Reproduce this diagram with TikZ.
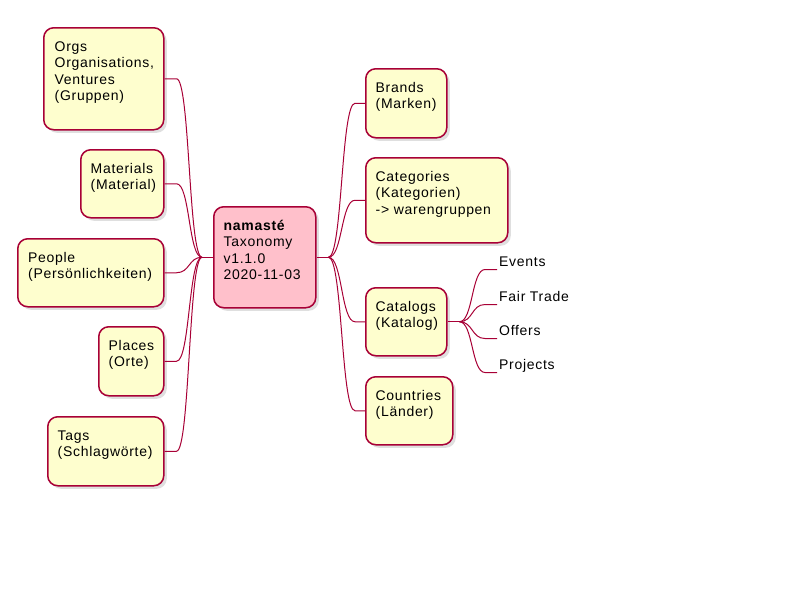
\documentclass[tikz,border=0pt]{standalone}
\usepackage{fontspec}
\setmainfont{Liberation Sans}[LetterSpace=5]
\usetikzlibrary{shadows,calc}
\definecolor{bord}{HTML}{A80036}
\definecolor{boxfill}{HTML}{FEFECE}
\definecolor{rootfill}{HTML}{FFC0CB}
\newcommand{\fl}{\rule{0pt}{13pt}}
\begin{document}
\begin{tikzpicture}[x=1pt,y=-1pt,
  mmbox/.style={draw=bord, fill=boxfill, line width=1.5pt, rounded corners=10pt, inner sep=0pt, anchor=north west,
    drop shadow={shadow xshift=3pt,shadow yshift=-3pt,opacity=0.25}},
  rootbox/.style={mmbox, fill=rootfill},
  txt/.style={inner sep=0pt, anchor=north west, align=left, font=\fontsize{14}{16.4}\selectfont, text=black},
  leaf/.style={inner sep=0pt, anchor=base west, font=\fontsize{14}{16.4}\selectfont, text=black},
  conn/.style={draw=bord, line width=1pt},
]
\fill[white] (0,0) rectangle (800,600);

% left boxes
\node[mmbox, minimum width=120, minimum height=102] (orgs) at (43,27) {};
\node[mmbox, minimum width=83, minimum height=68] (mat) at (80,149) {};
\node[mmbox, minimum width=146, minimum height=68] (people) at (17,238) {};
\node[mmbox, minimum width=65, minimum height=69] (places) at (98,326) {};
\node[mmbox, minimum width=116, minimum height=69] (tags) at (47,416) {};
% root
\node[rootbox, minimum width=102, minimum height=101] (root) at (213,206) {};
% right boxes
\node[mmbox, minimum width=81, minimum height=69] (brands) at (365,68) {};
\node[mmbox, minimum width=142, minimum height=85] (cats) at (365,157) {};
\node[mmbox, minimum width=81, minimum height=68] (catalogs) at (365,287) {};
\node[mmbox, minimum width=87, minimum height=68] (countries) at (365,376) {};

% texts
\node[txt] (orgsT) at ($(orgs.north west)+(11.5,11)$) {\fl Orgs\\Organisations,\\Ventures\\(Gruppen)};
\node[txt] (matT) at ($(mat.north west)+(10.5,11)$) {\fl Materials\\(Material)};
\node[txt] (peopleT) at ($(people.north west)+(11,11)$) {\fl People\\(Persönlichkeiten)};
\node[txt] (placesT) at ($(places.north west)+(10.5,11)$) {\fl Places\\(Orte)};
\node[txt] (tagsT) at ($(tags.north west)+(10.5,11)$) {\fl Tags\\(Schlagwörte)};
\node[txt] (rootT) at ($(root.north west)+(10.5,11)$) {\fl\textbf{namasté}\\Taxonomy\\v1.1.0\\2020-11-03};
\node[txt] (brandsT) at ($(brands.north west)+(10.5,11)$) {\fl Brands\\(Marken)};
\node[txt] (catsT) at ($(cats.north west)+(10.5,11)$) {\fl Categories\\(Kategorien)\\-> warengruppen};
\node[txt] (catalogsT) at ($(catalogs.north west)+(10.5,11)$) {\fl Catalogs\\(Katalog)};
\node[txt] (countriesT) at ($(countries.north west)+(10.5,11)$) {\fl Countries\\(Länder)};

% leaves
\node[leaf] (events) at (499,266) {Events};
\node[leaf] (fair) at (499,301) {Fair Trade};
\node[leaf] (offers) at (499,335) {Offers};
\node[leaf] (projects) at (499,369) {Projects};

% connectors
\coordinate (lj) at ($(root.west)+(-11,0)$);
\coordinate (rj) at ($(root.east)+(12,0)$);
\draw[conn] (root.west) -- (lj);
\draw[conn] (root.east) -- (rj);
\foreach \c in {orgs,mat,people,places,tags}{
  \draw[conn] (lj) .. controls ($(lj)+(-13.5,0)$) and ($(\c.east)+(25.5,0)$) .. ($(\c.east)+(12,0)$) -- (\c.east);
}
\foreach \c in {brands,cats,catalogs,countries}{
  \draw[conn] (rj) .. controls ($(rj)+(14,0)$) and ($(\c.west)+(-24,0)$) .. ($(\c.west)+(-10,0)$) -- (\c.west);
}
\coordinate (cj) at ($(catalogs.east)+(12,0)$);
\draw[conn] (catalogs.east) -- (cj);
\foreach \c in {events,fair,offers,projects}{
  \coordinate (e) at ($(\c.base west)+(-2,3.5)$);
  \draw[conn] (cj) .. controls ($(cj)+(13.5,0)$) and ($(e)+(-25.5,0)$) .. ($(e)+(-12,0)$) -- (e);
}
\end{tikzpicture}
\end{document}
